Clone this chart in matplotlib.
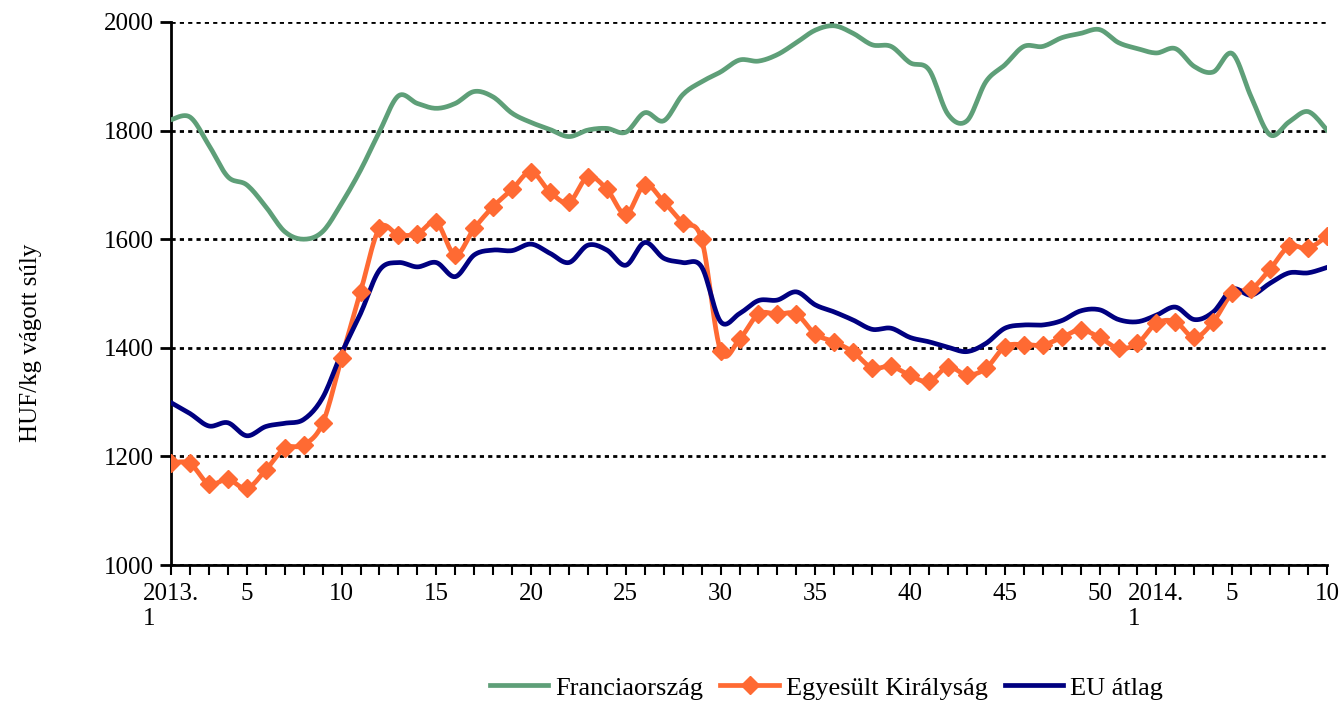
import numpy as np
import matplotlib.pyplot as plt

plt.rcParams['font.family'] = ['Liberation Serif', 'DejaVu Serif']

# weeks: 2013. 1..52, 2014. 1..10
weeks = list(range(1, 53)) + list(range(1, 11))

france = [1820, 1825, 1773, 1715, 1700, 1660, 1614, 1600, 1614, 1666,
          1727, 1798, 1864, 1850, 1841, 1850, 1872, 1862, 1832, 1815,
          1802, 1789, 1801, 1804, 1797, 1833, 1818, 1866, 1890, 1908,
          1930, 1928, 1940, 1962, 1985, 1993, 1979, 1958, 1955, 1925,
          1912, 1830, 1818, 1890, 1921, 1955, 1955, 1971, 1979, 1986,
          1962, 1951, 1943, 1951, 1918, 1908, 1942, 1862, 1792, 1816,
          1835, 1801]

uk = [1188, 1187, 1149, 1158, 1141, 1175, 1215, 1221, 1261, 1381,
      1503, 1620, 1608, 1610, 1631, 1571, 1620, 1660, 1692, 1724,
      1687, 1668, 1715, 1692, 1646, 1700, 1669, 1630, 1600, 1395,
      1416, 1462, 1462, 1462, 1425, 1411, 1392, 1363, 1366, 1349,
      1338, 1365, 1350, 1362, 1402, 1406, 1405, 1419, 1433, 1419,
      1399, 1408, 1445, 1448, 1419, 1448, 1500, 1508, 1545, 1587,
      1583, 1606]

eu = [1299, 1279, 1256, 1262, 1238, 1255, 1261, 1268, 1308, 1390,
      1463, 1543, 1557, 1549, 1557, 1531, 1571, 1580, 1579, 1591,
      1574, 1557, 1589, 1580, 1552, 1594, 1565, 1557, 1549, 1448,
      1463, 1487, 1488, 1503, 1479, 1466, 1451, 1434, 1436, 1419,
      1411, 1401, 1393, 1408, 1436, 1442, 1442, 1450, 1468, 1470,
      1452, 1448, 1460, 1475, 1452, 1466, 1508, 1497, 1519, 1538,
      1538, 1548]

tick_labels = {0: '2013.\n1', 4: '5', 9: '10', 14: '15', 19: '20', 24: '25',
               29: '30', 34: '35', 39: '40', 44: '45', 49: '50',
               52: '2014.\n1', 56: '5', 61: '10'}


def smooth(y, n=12):
    # Excel-style smoothed line (Bezier through the points)
    y = np.asarray(y, float)
    x = np.arange(len(y), dtype=float)
    p = np.column_stack([x, y])
    pp = np.vstack([p[0], p, p[-1]])
    t = np.linspace(0, 1, n, endpoint=False)[:, None]
    out = []
    for i in range(len(p) - 1):
        p0, p1, p2, p3 = pp[i], pp[i + 1], pp[i + 2], pp[i + 3]
        c1 = p1 + (p2 - p0) / 6
        c2 = p2 - (p3 - p1) / 6
        seg = ((1 - t) ** 3 * p1 + 3 * (1 - t) ** 2 * t * c1
               + 3 * (1 - t) * t ** 2 * c2 + t ** 3 * p2)
        out.append(seg)
    out.append(p[-1][None, :])
    out = np.vstack(out)
    return out[:, 0], out[:, 1]


fig = plt.figure(figsize=(13.44, 7.02), dpi=100)
ax = fig.add_axes([171 / 1344, 1 - 565 / 702, 1156 / 1344, 543 / 702])

x = np.arange(len(weeks))
green = '#5E9F78'
orange = '#FF6A33'
navy = '#000080'

sx, sy = smooth(france)
ax.plot(sx, sy, color=green, lw=3.4, label='Franciaország', zorder=3)
sx, sy = smooth(uk)
ax.plot(sx, sy, color=orange, lw=3.4, zorder=3)
ax.plot(x, uk, ls='none', marker='D', ms=9, color=orange, zorder=4)
ax.plot([], [], color=orange, lw=3.4, marker='D', ms=9, label='Egyesült Királyság')
sx, sy = smooth(eu)
ax.plot(sx, sy, color=navy, lw=3.4, label='EU átlag', zorder=3)

ax.set_xlim(0, len(weeks) - 1)
ax.set_ylim(1000, 2000)
ax.set_yticks(range(1000, 2001, 200))
ax.yaxis.grid(True, color='black', ls=(0, (1.5, 1.5)), lw=2)
ax.set_axisbelow(True)

ax.set_xticks(x, minor=True)
ax.set_xticks(list(tick_labels.keys()))
ax.set_xticklabels(list(tick_labels.values()), multialignment='left',
                   va='top')
ax.tick_params(axis='x', which='both', direction='out', length=7, width=1.5,
               labelsize=18, pad=6)
ax.tick_params(axis='y', direction='out', length=8, width=2, labelsize=18, pad=4)

for s in ['top', 'right']:
    ax.spines[s].set_visible(False)
for s in ['left', 'bottom']:
    ax.spines[s].set_linewidth(2)

ax.set_ylabel('HUF/kg vágott súly', fontsize=18)
ax.yaxis.set_label_coords(-0.112, 0.41)

ax.legend(loc='center', bbox_to_anchor=(0.567, -0.2265), ncol=3, frameon=False,
          fontsize=19, handlelength=2.2, columnspacing=0.65, handletextpad=0.27)

fig.savefig('out.png', dpi=100)
